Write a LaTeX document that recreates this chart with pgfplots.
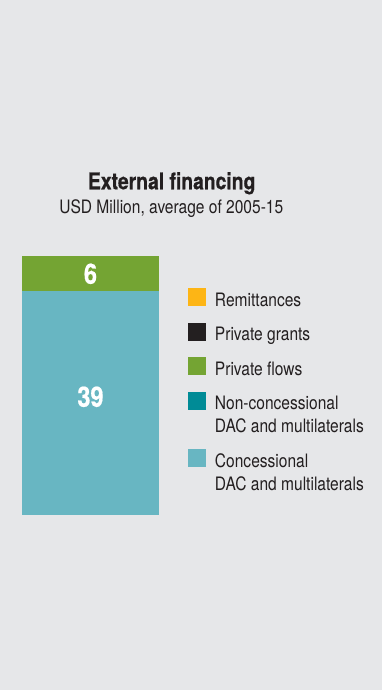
\documentclass[border=0pt]{standalone}
\usepackage{fontspec}
\setmainfont[FakeStretch=0.84,BoldFeatures={FakeBold=0.6}]{TeX Gyre Heros}
\usepackage{pgfplots}
\pgfplotsset{compat=1.18}
\definecolor{bg}{HTML}{E6E7E9}
\definecolor{remit}{HTML}{FDB515}
\definecolor{grants}{HTML}{231F20}
\definecolor{pflows}{HTML}{74A433}
\definecolor{noncon}{HTML}{008B96}
\definecolor{concess}{HTML}{68B6C2}
\definecolor{txt}{HTML}{231F20}
\begin{document}
\begin{tikzpicture}[x=1pt,y=1pt]
\fill[bg] (0,0) rectangle (382,690);
\node[anchor=base, font=\fontsize{23}{27}\selectfont\bfseries, text=txt, inner sep=0pt] at (171.7,500.7) {External financing};
\node[anchor=base, font=\fontsize{18.5}{22}\selectfont, text=txt, inner sep=0pt] at (171.3,476.7) {USD Million, average of 2005-15};
\begin{axis}[
  at={(22pt,175pt)}, anchor=south west,
  scale only axis, width=137pt, height=259pt,
  xmin=-0.5, xmax=0.5, ymin=0, ymax=45,
  axis lines=none, ybar stacked, bar width=137pt,
  point meta=explicit symbolic,
  legend cell align=left,
  legend style={draw=none, fill=none, inner sep=0pt, outer sep=0pt,
    at={(1.2117,0.8764)}, anchor=north west, row sep=15pt,
    /tikz/column sep=9pt,
    font=\fontsize{18.5}{23}\selectfont, text=txt,
    nodes={inner sep=0pt, align=left},
    cells={anchor=base west}},
  legend image code/.code={\path[#1, draw=none] (0pt,0pt) rectangle (18pt,18pt);},
  reverse legend,
]
\addplot[fill=concess, draw=none, nodes near coords,
  legend image code/.code={\path[fill=concess, draw=none] (0pt,23pt) rectangle (18pt,41pt);},
  every node near coord/.append style={anchor=center, yshift=6pt, text=white, font=\fontsize{28}{30}\selectfont\bfseries}]
  coordinates {(0,39) [39]};
\addlegendentry{Concessional\\DAC and multilaterals}
\addlegendimage{draw=none, legend image code/.code={\path[fill=noncon, draw=none] (0pt,23pt) rectangle (18pt,41pt);}}
\addlegendentry{Non-concessional\\DAC and multilaterals}
\addplot[fill=pflows, draw=none, nodes near coords,
  every node near coord/.append style={anchor=center, yshift=-0.5pt, text=white, font=\fontsize{28}{30}\selectfont\bfseries}]
  coordinates {(0,6) [6]};
\addlegendentry{Private flows}
\addlegendimage{fill=grants, draw=none}
\addlegendentry{Private grants}
\addlegendimage{fill=remit, draw=none}
\addlegendentry{Remittances}
\end{axis}
\end{tikzpicture}
\end{document}
